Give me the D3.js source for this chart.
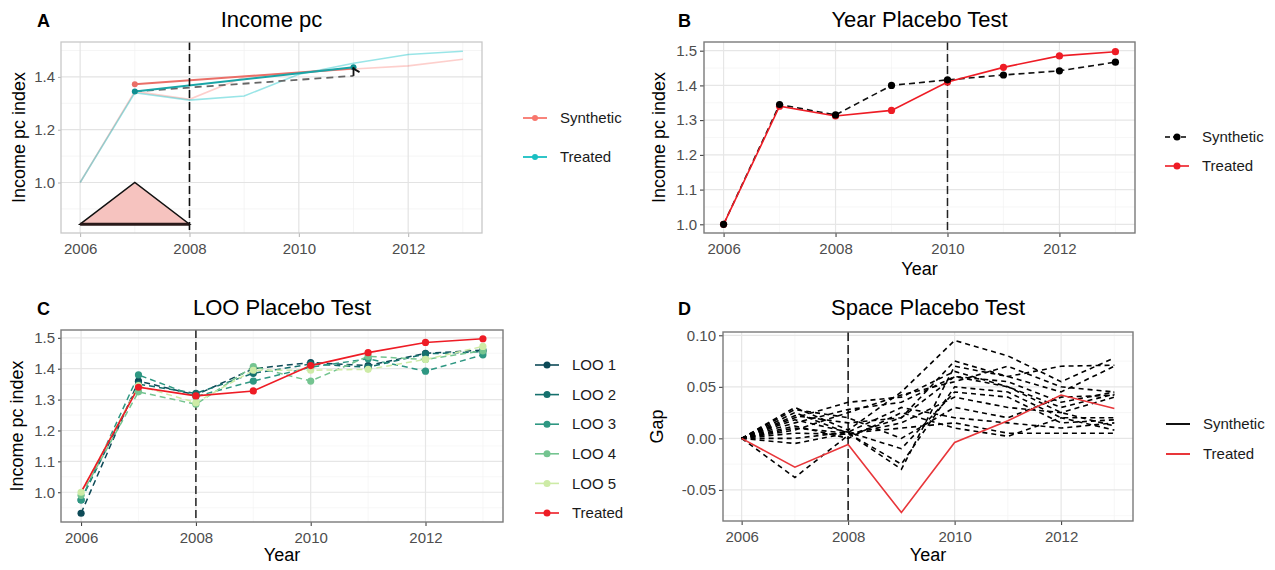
<!DOCTYPE html>
<html>
<head>
<meta charset="utf-8">
<script src="https://cdn.jsdelivr.net/npm/d3@7"></script>
<style>
  body { margin: 0; background: #fff; }
  text { font-family: "Liberation Sans", Arial, sans-serif; }
</style>
</head>
<body>
<svg id="chart" width="1275" height="570"></svg>
<script>
// ---- data ----
var years = [2006, 2007, 2008, 2009, 2010, 2011, 2012, 2013];
var treated   = [1.000, 1.340, 1.312, 1.328, 1.410, 1.452, 1.485, 1.497];
var synthetic = [1.000, 1.345, 1.315, 1.400, 1.416, 1.430, 1.442, 1.467];

// panel A illustration (pre/post trend + gap arrow)
var illusYears = [2007, 2011];
var illusSynthetic = [1.372, 1.432];
var illusTreated = [1.345, 1.437];
var illusCounterfactual = [1.345, 1.404];
var triangleYears = [2006, 2007, 2008];
var triangleValues = [0.842, 1.0, 0.842];

// panel C leave-one-out
var looNames = ["LOO 1", "LOO 2", "LOO 3", "LOO 4", "LOO 5"];
var loo1 = [0.932, 1.360, 1.315, 1.400, 1.420, 1.410, 1.450, 1.460];
var loo2 = [0.975, 1.350, 1.320, 1.385, 1.415, 1.405, 1.448, 1.455];
var loo3 = [0.975, 1.380, 1.310, 1.360, 1.405, 1.432, 1.392, 1.445];
var loo4 = [0.990, 1.325, 1.285, 1.407, 1.360, 1.440, 1.430, 1.458];
var loo5 = [1.000, 1.345, 1.290, 1.395, 1.395, 1.398, 1.430, 1.472];

// panel D gaps
var gapTreated = [0, -0.028, -0.006, -0.072, -0.004, 0.017, 0.042, 0.029];
var gapPlacebos = [
  [0, -0.038, 0.003, 0.020, 0.060, 0.050, 0.030, 0.043],
  [0, 0.030, 0.008, 0.045, 0.095, 0.080, 0.055, 0.078],
  [0, 0.025, 0.005, -0.030, 0.070, 0.060, 0.045, 0.070],
  [0, 0.020, 0.035, 0.040, 0.065, 0.050, 0.025, 0.012],
  [0, 0.015, 0.028, 0.035, 0.060, 0.055, 0.035, 0.045],
  [0, 0.010, 0.005, -0.025, 0.050, 0.045, 0.020, 0.020],
  [0, 0.005, 0.004, 0.015, 0.040, 0.030, 0.025, 0.040],
  [0, 0.000, 0.006, 0.030, 0.020, 0.015, 0.010, 0.015],
  [0, -0.005, 0.005, 0.010, 0.015, 0.005, 0.005, 0.005],
  [0, 0.028, 0.020, 0.000, 0.030, 0.020, 0.040, 0.042],
  [0, 0.022, 0.015, 0.020, 0.075, 0.060, 0.070, 0.071],
  [0, 0.012, 0.000, 0.025, 0.010, 0.002, 0.020, 0.008],
  [0, 0.018, 0.006, -0.010, 0.045, 0.040, 0.015, 0.018],
  [0, 0.008, 0.025, 0.042, 0.055, 0.070, 0.050, 0.045]
];

var looColors = ["#0d4a57", "#15706d", "#2e9782", "#74c490", "#cdeba6"];
var red = "#ee1c25";

var svg = d3.select("#chart");
svg.append("rect").attr("width", 1275).attr("height", 570).attr("fill", "#fff");

// builds one ggplot-like panel and returns its scales
function makePanel(o) {
  var g = svg.append("g");
  var x = d3.scaleLinear().domain([2005.65, 2013.35]).range([o.left, o.right]);
  var y = d3.scaleLinear().domain(o.yDomain).range([o.bottom, o.top]);

  // minor grid
  g.selectAll(null).data([2007, 2009, 2011, 2013]).enter().append("line")
    .attr("x1", d => x(d)).attr("x2", d => x(d))
    .attr("y1", o.top).attr("y2", o.bottom)
    .attr("stroke", o.minor).attr("stroke-width", 0.7);
  g.selectAll(null).data(o.yMinor).enter().append("line")
    .attr("x1", o.left).attr("x2", o.right)
    .attr("y1", d => y(d)).attr("y2", d => y(d))
    .attr("stroke", o.minor).attr("stroke-width", 0.7);
  // major grid
  g.selectAll(null).data([2006, 2008, 2010, 2012]).enter().append("line")
    .attr("x1", d => x(d)).attr("x2", d => x(d))
    .attr("y1", o.top).attr("y2", o.bottom)
    .attr("stroke", o.major).attr("stroke-width", 1.2);
  g.selectAll(null).data(o.yTicks).enter().append("line")
    .attr("x1", o.left).attr("x2", o.right)
    .attr("y1", d => y(d)).attr("y2", d => y(d))
    .attr("stroke", o.major).attr("stroke-width", 1.2);

  // axes
  var xa = g.append("g").attr("transform", "translate(0," + o.bottom + ")")
    .call(d3.axisBottom(x).tickValues([2006, 2008, 2010, 2012])
      .tickFormat(d3.format("d")).tickSize(4).tickPadding(6));
  var ya = g.append("g").attr("transform", "translate(" + o.left + ",0)")
    .call(d3.axisLeft(y).tickValues(o.yTicks).tickFormat(o.yFormat)
      .tickSize(o.yTickSize).tickPadding(3));
  [xa, ya].forEach(function(a) {
    a.select(".domain").remove();
    a.selectAll(".tick line").attr("stroke", o.tickColor);
    a.selectAll("text").attr("fill", "#4d4d4d").style("font-size", "15px")
      .style("font-family", "'Liberation Sans', Arial, sans-serif");
  });

  var plot = g.append("g");

  // border drawn after data so it sits on top
  g.append("rect").attr("class", "border")
    .attr("x", o.left).attr("y", o.top)
    .attr("width", o.right - o.left).attr("height", o.bottom - o.top)
    .attr("fill", "none").attr("stroke", o.borderColor).attr("stroke-width", o.borderWidth);

  // titles
  g.append("text").attr("x", (o.left + o.right) / 2).attr("y", o.titleY)
    .attr("text-anchor", "middle").style("font-size", "22px").attr("fill", "#000")
    .text(o.title);
  g.append("text").attr("x", o.letterX).attr("y", o.titleY)
    .style("font-size", "18px").style("font-weight", "bold").text(o.letter);
  g.append("text")
    .attr("transform", "translate(" + o.yTitleX + "," + ((o.top + o.bottom) / 2) + ") rotate(-90)")
    .attr("text-anchor", "middle").style("font-size", "18px").text(o.yTitle);
  if (o.xTitle) {
    g.append("text").attr("x", (o.left + o.right) / 2).attr("y", o.xTitleY)
      .attr("text-anchor", "middle").style("font-size", "18px").text(o.xTitle);
  }
  return { x: x, y: y, g: plot, border: g.select(".border") };
}

function series(vals) {
  return years.map(function(yr, i) { return { year: yr, v: vals[i] }; });
}

function legend(items, x0, y0, step) {
  var lg = svg.append("g");
  items.forEach(function(it, i) {
    var cy = y0 + i * step;
    lg.append("line").attr("x1", x0 - 12).attr("x2", x0 + 12).attr("y1", cy).attr("y2", cy)
      .attr("stroke", it.color).attr("stroke-width", it.width || 1.6)
      .attr("stroke-dasharray", it.dash || null);
    if (it.dot) {
      lg.append("circle").attr("cx", x0).attr("cy", cy).attr("r", it.r || 3.5).attr("fill", it.color);
    }
    lg.append("text").attr("x", x0 + 25).attr("y", cy).attr("dy", "0.35em")
      .style("font-size", "15px").attr("fill", "#1a1a1a").text(it.label);
  });
}

// ---------------- Panel A ----------------
var A = makePanel({
  left: 61, right: 482, top: 42, bottom: 233,
  yDomain: [0.8087, 1.5323], yTicks: [1.0, 1.2, 1.4], yMinor: [0.9, 1.1, 1.3, 1.5],
  yFormat: d3.format(".1f"), yTickSize: 3,
  major: "#e3e3e3", minor: "#f1f1f1", tickColor: "#b3b3b3",
  borderColor: "#c8c8c8", borderWidth: 1.3,
  title: "Income pc", letter: "A", letterX: 37, titleY: 27,
  yTitle: "Income pc index", yTitleX: 25
});
var lineA = d3.line().x(d => A.x(d.year)).y(d => A.y(d.v));
A.g.append("path").datum(series(synthetic)).attr("d", lineA)
  .attr("fill", "none").attr("stroke", "#F8766D").attr("stroke-opacity", 0.35).attr("stroke-width", 1.6);
A.g.append("path").datum(series(treated)).attr("d", lineA)
  .attr("fill", "none").attr("stroke", "#00BFC4").attr("stroke-opacity", 0.4).attr("stroke-width", 1.6);

var tri = triangleYears.map((yr, i) => [A.x(yr), A.y(triangleValues[i])]);
A.g.append("path").attr("d", "M" + tri.join("L") + "Z")
  .attr("fill", "#f6c3bf").attr("stroke", "#111").attr("stroke-width", 1.5).attr("stroke-linejoin", "miter");
A.g.append("line")
  .attr("x1", A.x(triangleYears[0])).attr("x2", A.x(triangleYears[2]))
  .attr("y1", A.y(triangleValues[0])).attr("y2", A.y(triangleValues[2]))
  .attr("stroke", "#2a1a1a").attr("stroke-width", 3);

var pair = vals => illusYears.map((yr, i) => ({ year: yr, v: vals[i] }));
A.g.append("path").datum(pair(illusCounterfactual)).attr("d", lineA)
  .attr("fill", "none").attr("stroke", "#666").attr("stroke-width", 1.8).attr("stroke-dasharray", "7,5");
A.g.append("path").datum(pair(illusSynthetic)).attr("d", lineA)
  .attr("fill", "none").attr("stroke", "#ea6f68").attr("stroke-width", 2);
A.g.append("path").datum(pair(illusTreated)).attr("d", lineA)
  .attr("fill", "none").attr("stroke", "#1aa5a7").attr("stroke-width", 2);
A.g.append("circle").attr("cx", A.x(illusYears[0])).attr("cy", A.y(illusSynthetic[0])).attr("r", 3).attr("fill", "#ea6f68");
A.g.append("circle").attr("cx", A.x(illusYears[0])).attr("cy", A.y(illusTreated[0])).attr("r", 3).attr("fill", "#0f8f91");
A.g.append("circle").attr("cx", A.x(illusYears[1])).attr("cy", A.y(illusTreated[1])).attr("r", 3).attr("fill", "#0f8f91");
// gap arrow
var ax = A.x(illusYears[1]), ay0 = A.y(illusCounterfactual[1]), ay1 = A.y(illusTreated[1]);
A.g.append("line").attr("x1", ax).attr("x2", ax).attr("y1", ay0).attr("y2", ay1)
  .attr("stroke", "#111").attr("stroke-width", 1.8);
A.g.append("path").attr("d", "M" + (ax - 1) + "," + (ay1 + 1) + "L" + (ax + 6) + "," + (ay1 + 5))
  .attr("stroke", "#111").attr("stroke-width", 1.8).attr("fill", "none");
A.g.append("line").attr("x1", A.x(2008)).attr("x2", A.x(2008)).attr("y1", 42).attr("y2", 233)
  .attr("stroke", "#111").attr("stroke-width", 1.6).attr("stroke-dasharray", "8,4");
legend([
  { label: "Synthetic", color: "#F8766D", dot: true, r: 3, width: 1.8 },
  { label: "Treated", color: "#19bfc2", dot: true, r: 3, width: 1.8 }
], 535, 118, 39);

// ---------------- Panel B ----------------
var B = makePanel({
  left: 704, right: 1135, top: 42, bottom: 233,
  yDomain: [0.975, 1.525], yTicks: [1.0, 1.1, 1.2, 1.3, 1.4, 1.5], yMinor: [1.05, 1.15, 1.25, 1.35, 1.45],
  yFormat: d3.format(".1f"), yTickSize: 4,
  major: "#e6e6e6", minor: "#f3f3f3", tickColor: "#333",
  borderColor: "#7a7a7a", borderWidth: 1.4,
  title: "Year Placebo Test", letter: "B", letterX: 678, titleY: 27,
  yTitle: "Income pc index", yTitleX: 665, xTitle: "Year", xTitleY: 275
});
var lineB = d3.line().x(d => B.x(d.year)).y(d => B.y(d.v));
B.g.append("line").attr("x1", B.x(2010)).attr("x2", B.x(2010)).attr("y1", 42).attr("y2", 233)
  .attr("stroke", "#222").attr("stroke-width", 1.5).attr("stroke-dasharray", "8,4");
B.g.append("path").datum(series(synthetic)).attr("d", lineB)
  .attr("fill", "none").attr("stroke", "#111").attr("stroke-width", 1.6).attr("stroke-dasharray", "6,4");
B.g.append("path").datum(series(treated)).attr("d", lineB)
  .attr("fill", "none").attr("stroke", red).attr("stroke-width", 1.6);
B.g.selectAll(null).data(series(treated)).enter().append("circle")
  .attr("cx", d => B.x(d.year)).attr("cy", d => B.y(d.v)).attr("r", 3.6).attr("fill", red);
B.g.selectAll(null).data(series(synthetic)).enter().append("circle")
  .attr("cx", d => B.x(d.year)).attr("cy", d => B.y(d.v)).attr("r", 3.6).attr("fill", "#000");
legend([
  { label: "Synthetic", color: "#000", dot: true, dash: "5,3" },
  { label: "Treated", color: red, dot: true }
], 1177, 137, 29);

// ---------------- Panel C ----------------
var C = makePanel({
  left: 61, right: 503, top: 330, bottom: 522,
  yDomain: [0.9037, 1.5253], yTicks: [1.0, 1.1, 1.2, 1.3, 1.4, 1.5], yMinor: [0.95, 1.05, 1.15, 1.25, 1.35, 1.45],
  yFormat: d3.format(".1f"), yTickSize: 3,
  major: "#e6e6e6", minor: "#f3f3f3", tickColor: "#333",
  borderColor: "#7a7a7a", borderWidth: 1.4,
  title: "LOO Placebo Test", letter: "C", letterX: 37, titleY: 315,
  yTitle: "Income pc index", yTitleX: 23, xTitle: "Year", xTitleY: 561
});
var lineC = d3.line().x(d => C.x(d.year)).y(d => C.y(d.v));
C.g.append("line").attr("x1", C.x(2008)).attr("x2", C.x(2008)).attr("y1", 330).attr("y2", 522)
  .attr("stroke", "#222").attr("stroke-width", 1.5).attr("stroke-dasharray", "8,4");
[loo1, loo2, loo3, loo4, loo5].forEach(function(vals, i) {
  C.g.append("path").datum(series(vals)).attr("d", lineC)
    .attr("fill", "none").attr("stroke", looColors[i]).attr("stroke-width", 1.5).attr("stroke-dasharray", "6,4");
});
C.g.append("path").datum(series(treated)).attr("d", lineC)
  .attr("fill", "none").attr("stroke", red).attr("stroke-width", 1.6);
[loo1, loo2, loo3, loo4, loo5].forEach(function(vals, i) {
  C.g.selectAll(null).data(series(vals)).enter().append("circle")
    .attr("cx", d => C.x(d.year)).attr("cy", d => C.y(d.v)).attr("r", 3.6).attr("fill", looColors[i]);
});
C.g.selectAll(null).data(series(treated).slice(1)).enter().append("circle")
  .attr("cx", d => C.x(d.year)).attr("cy", d => C.y(d.v)).attr("r", 3.6).attr("fill", red);
legend(looNames.map((n, i) => ({ label: n, color: looColors[i], dot: true }))
  .concat([{ label: "Treated", color: red, dot: true }]), 547, 365, 29.6);

// ---------------- Panel D ----------------
var D = makePanel({
  left: 723, right: 1133, top: 332, bottom: 521,
  yDomain: [-0.0802, 0.1032], yTicks: [-0.05, 0, 0.05, 0.10], yMinor: [-0.075, -0.025, 0.025, 0.075],
  yFormat: d => d.toFixed(2), yTickSize: 4,
  major: "#e6e6e6", minor: "#f3f3f3", tickColor: "#333",
  borderColor: "#7a7a7a", borderWidth: 1.4,
  title: "Space Placebo Test", letter: "D", letterX: 678, titleY: 315,
  yTitle: "Gap", yTitleX: 663, xTitle: "Year", xTitleY: 561
});
var lineD = d3.line().x(d => D.x(d.year)).y(d => D.y(d.v));
D.g.append("line").attr("x1", D.x(2008)).attr("x2", D.x(2008)).attr("y1", 332).attr("y2", 521)
  .attr("stroke", "#111").attr("stroke-width", 1.5).attr("stroke-dasharray", "9,4");
gapPlacebos.forEach(function(vals) {
  D.g.append("path").datum(series(vals)).attr("d", lineD)
    .attr("fill", "none").attr("stroke", "#000").attr("stroke-width", 1.6).attr("stroke-dasharray", "5,4");
});
D.g.append("path").datum(series(gapTreated)).attr("d", lineD)
  .attr("fill", "none").attr("stroke", "#e8363a").attr("stroke-width", 1.6);
legend([
  { label: "Synthetic", color: "#111", width: 2 },
  { label: "Treated", color: "#e8363a", width: 2 }
], 1178, 424, 30);
</script>
</body>
</html>
